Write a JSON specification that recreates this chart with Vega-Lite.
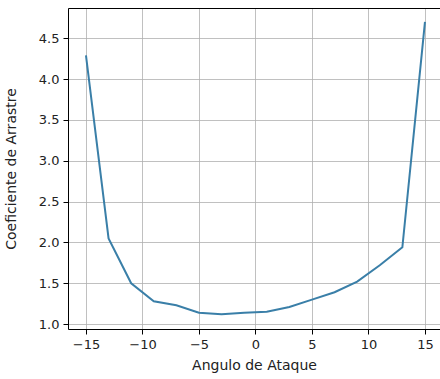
{
  "$schema": "https://vega.github.io/schema/vega-lite/v6.json",
  "autosize": "none",
  "padding": {"left": 68, "top": 8, "right": 0, "bottom": 50},
  "width": 372,
  "height": 321,
  "background": "white",
  "config": {
    "view": {"stroke": null},
    "font": "DejaVu Sans",
    "axis": {
      "domainColor": "#000000",
      "domainWidth": 1,
      "tickColor": "#000000",
      "tickSize": 5,
      "tickWidth": 1,
      "gridColor": "#b0b0b0",
      "gridWidth": 0.8,
      "labelFont": "DejaVu Sans",
      "labelFontSize": 13,
      "labelColor": "#222222",
      "titleFont": "DejaVu Sans",
      "titleFontSize": 14,
      "titleFontWeight": "normal",
      "titleColor": "#222222"
    }
  },
  "data": {
    "values": [
      {"angulo": -15, "cd": 4.29},
      {"angulo": -13, "cd": 2.05},
      {"angulo": -11, "cd": 1.50},
      {"angulo": -9, "cd": 1.28},
      {"angulo": -7, "cd": 1.23},
      {"angulo": -5, "cd": 1.14},
      {"angulo": -3, "cd": 1.12},
      {"angulo": -1, "cd": 1.14},
      {"angulo": 1, "cd": 1.15},
      {"angulo": 3, "cd": 1.21},
      {"angulo": 5, "cd": 1.30},
      {"angulo": 7, "cd": 1.39},
      {"angulo": 9, "cd": 1.52},
      {"angulo": 11, "cd": 1.72},
      {"angulo": 13, "cd": 1.94},
      {"angulo": 15, "cd": 4.70}
    ]
  },
  "layer": [
    {
      "mark": {"type": "line", "color": "#3a7fa8", "strokeWidth": 2},
      "encoding": {
        "x": {
          "field": "angulo", "type": "quantitative",
          "scale": {"domain": [-16.59, 16.33], "nice": false, "zero": false},
          "axis": {"title": "Angulo de Ataque", "values": [-15, -10, -5, 0, 5, 10, 15], "labelPadding": 4, "titlePadding": 7, "orient": "bottom"}
        },
        "y": {
          "field": "cd", "type": "quantitative",
          "scale": {"domain": [0.94, 4.87], "nice": false, "zero": false},
          "axis": {"title": "Coeficiente de Arrastre", "values": [1.0, 1.5, 2.0, 2.5, 3.0, 3.5, 4.0, 4.5], "format": ".1f", "labelPadding": 4, "titlePadding": 20}
        }
      }
    },
    {
      "mark": {"type": "line", "strokeOpacity": 0},
      "encoding": {
        "x": {
          "field": "angulo", "type": "quantitative",
          "axis": {"orient": "top", "title": null, "labels": false, "ticks": false, "grid": false}
        },
        "y": {"field": "cd", "type": "quantitative"}
      }
    }
  ],
  "resolve": {"axis": {"x": "independent"}}
}
